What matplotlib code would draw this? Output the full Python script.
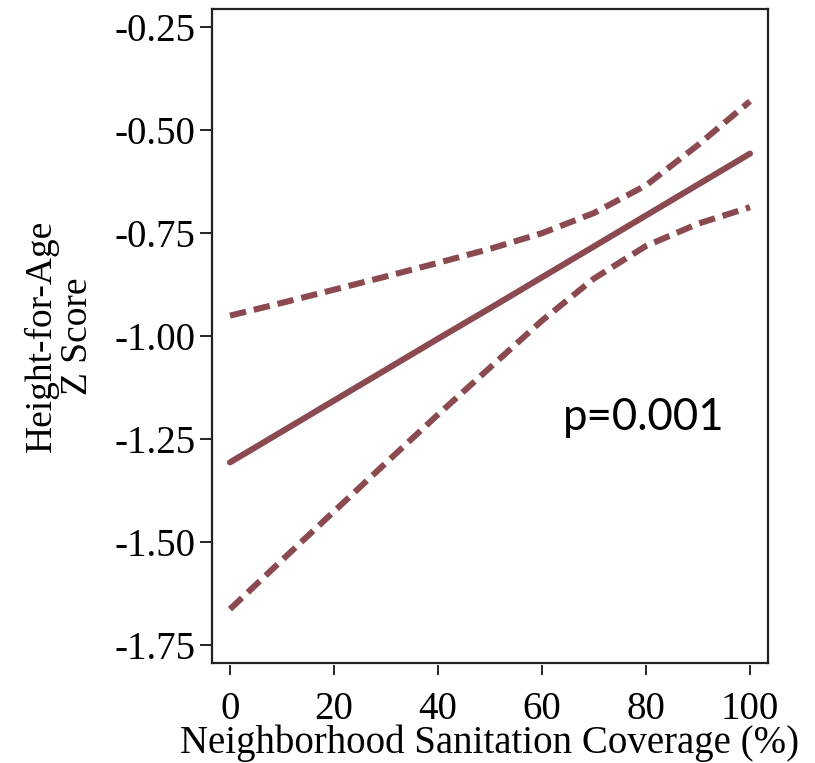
import matplotlib
matplotlib.use("Agg")
import matplotlib.pyplot as plt

# Data
coverage = [0, 10, 20, 30, 40, 50, 60, 70, 80, 90, 100]
fit = [-1.306, -1.231, -1.156, -1.081, -1.006, -0.932, -0.857, -0.782, -0.707, -0.632, -0.557]
ci_upper = [-0.950, -0.919, -0.887, -0.855, -0.822, -0.788, -0.750, -0.701, -0.634, -0.536, -0.430]
ci_lower = [-1.662, -1.543, -1.425, -1.307, -1.190, -1.076, -0.962, -0.860, -0.781, -0.727, -0.687]

x_ticks = [0, 20, 40, 60, 80, 100]
y_ticks = [-1.75, -1.50, -1.25, -1.00, -0.75, -0.50, -0.25]
y_ticklabels = ["-1.75", "-1.50", "-1.25", "-1.00", "-0.75", "-0.50", "-0.25"]

color = "#8b4a50"
serif = ["Liberation Serif", "DejaVu Serif"]

fig = plt.figure(figsize=(8.15, 7.63), dpi=100)
ax = fig.add_axes([212/815, 1-663/763, (768-212)/815, (663-9)/763])

# spines first (changing spine position resets tick properties)
for s in ax.spines.values():
    s.set_linewidth(1.6)
    s.set_color("#222222")
ax.spines["bottom"].set_position(("outward", 1.5))
ax.spines["bottom"].set_visible(False)
ax.plot([0, 1], [0, 0], transform=ax.transAxes, color="#222222", lw=1.6,
        clip_on=False, zorder=5, solid_capstyle="projecting")

ax.plot(coverage, fit, color=color, lw=4.4, solid_capstyle="round", zorder=3)
ax.plot(coverage, ci_upper, color=color, lw=4.4, dashes=(2.7, 1.3), dash_capstyle="butt", zorder=3)
ax.plot(coverage, ci_lower, color=color, lw=4.4, dashes=(2.7, 1.3), dash_capstyle="butt", zorder=3)

ax.set_xlim(-3.46, 103.46)
ax.set_ylim(-1.7926, -0.2062)

ax.set_xticks(x_ticks)
ax.set_xticklabels([str(v) for v in x_ticks], fontsize=28, family=serif)
ax.set_yticks(y_ticks)
ax.set_yticklabels(y_ticklabels, fontsize=28, family=serif)

ax.tick_params(axis="y", direction="out", length=9, width=1.2, pad=3, colors="black")
ax.tick_params(axis="x", direction="out", length=7.5, width=1.2, pad=11, colors="black")

ax.set_xlabel("Neighborhood Sanitation Coverage (%)", fontsize=28, family=serif, labelpad=-2)
ax.set_ylabel("Height-for-Age\nZ Score", fontsize=27, family=serif, labelpad=14, linespacing=1.05)

ax.text(64.0, -1.228, "p=0.001", fontsize=31.5, family=["Lato", "DejaVu Sans"],
        va="baseline", ha="left")

fig.savefig("out.png", dpi=100)
